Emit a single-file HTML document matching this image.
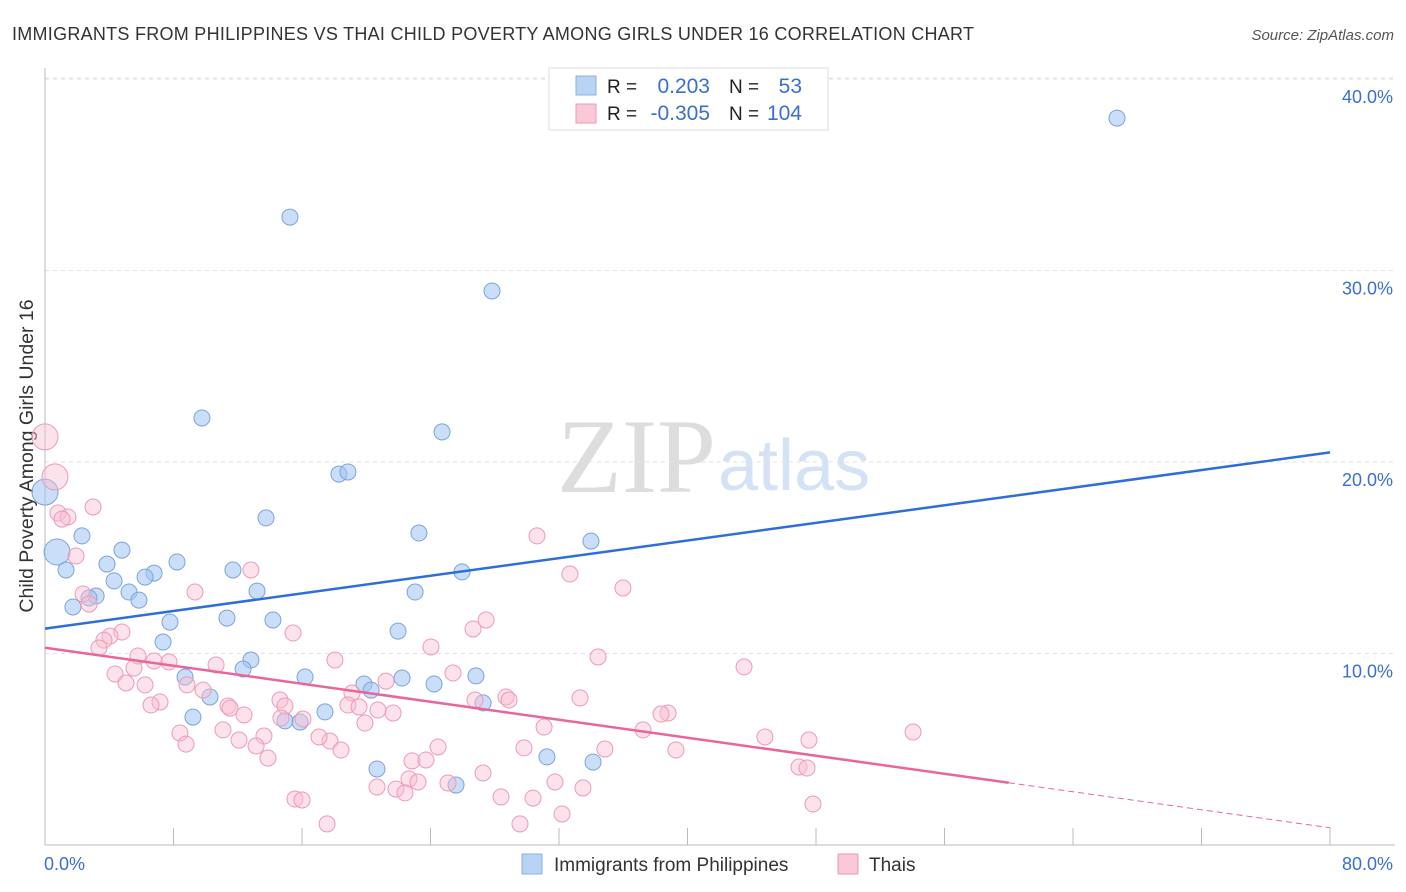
<!DOCTYPE html>
<html><head><meta charset="utf-8"><style>
body{margin:0;background:#fff;font-family:"Liberation Sans",sans-serif;}
#c{position:absolute;left:0;top:0;width:1406px;height:892px;}
</style></head><body>
<svg id="c" width="1406" height="892" xmlns="http://www.w3.org/2000/svg">
<text x="12" y="40" font-size="18" fill="#333" textLength="962">IMMIGRANTS FROM PHILIPPINES VS THAI CHILD POVERTY AMONG GIRLS UNDER 16 CORRELATION CHART</text>
<text x="1394" y="40" font-size="15" fill="#555" text-anchor="end" font-style="italic">Source: ZipAtlas.com</text>
<text x="716" y="492" font-size="106" fill="#ddd" text-anchor="end" font-family="Liberation Serif">ZIP</text>
<text x="718" y="490" font-size="72" fill="#d3e2f4">atlas</text>
<g id="grid"></g>
<line x1="45" y1="68" x2="45" y2="845" stroke="#bbb"/>
<line x1="45" y1="845" x2="1395" y2="845" stroke="#bbb"/>
<g id="xt"></g>
<text x="33" y="456" font-size="19.5" fill="#333" text-anchor="middle" transform="rotate(-90 33 456)">Child Poverty Among Girls Under 16</text>
<g id="pts"></g>
<g id="lines"></g>
<g>
<rect x="549" y="68" width="279" height="62" fill="#fff" stroke="#ddd"/>
<rect x="576" y="76" width="20" height="19" fill="#b9d3f5" stroke="#8ab0e6"/>
<rect x="576" y="104" width="20" height="19" fill="#fac8d7" stroke="#ee9ab6"/>
<text x="607" y="93" font-size="19" fill="#222">R = </text>
<text x="710" y="93" font-size="21" fill="#3a6fcf" text-anchor="end">0.203</text>
<text x="729" y="93" font-size="19" fill="#222">N = </text>
<text x="802" y="93" font-size="21" fill="#3a6fcf" text-anchor="end">53</text>
<text x="607" y="120" font-size="19" fill="#222">R = </text>
<text x="710" y="120" font-size="21" fill="#3a6fcf" text-anchor="end">-0.305</text>
<text x="729" y="120" font-size="19" fill="#222">N = </text>
<text x="802" y="120" font-size="21" fill="#3a6fcf" text-anchor="end">104</text>
</g>
<g>
<rect x="522" y="854" width="20" height="20" fill="#b9d3f5" stroke="#8ab0e6"/>
<text x="554" y="871" font-size="19" fill="#333">Immigrants from Philippines</text>
<rect x="838" y="854" width="20" height="20" fill="#fac8d7" stroke="#ee9ab6"/>
<text x="869" y="871" font-size="19" fill="#333">Thais</text>
</g>
<text x="44" y="870" font-size="18" fill="#3a6fcf">0.0%</text>
<text x="1393" y="870" font-size="18" fill="#3a6fcf" text-anchor="end">80.0%</text>
</svg>
<script>
const yTicks=[10,20,30,40];
const xTicks=[0,8,16,24,32,40,48,56,64,72,80];
const bluePx=[[1117,118],[290,217],[492,291],[202,418],[442,432],[339,474],[348,472],[45,492],[266,518],[419,533],[591,541],[82,536],[57,552],[122,550],[66,570],[107,564],[177,562],[154,573],[145,577],[233,570],[462,572],[114,581],[129,592],[96,596],[139,600],[257,591],[415,592],[73,607],[89,598],[170,622],[227,618],[273,620],[398,631],[163,642],[251,660],[243,669],[185,677],[305,677],[364,684],[371,690],[402,678],[434,684],[476,676],[210,697],[483,703],[193,717],[325,712],[285,721],[300,722],[377,769],[547,757],[593,762],[456,785]];
const pinkPx=[[45,437],[55,477],[93,507],[58,513],[68,517],[62,519],[76,556],[537,536],[251,570],[570,574],[623,588],[195,592],[83,594],[89,604],[486,620],[473,629],[293,633],[122,632],[110,636],[104,640],[431,647],[99,648],[138,656],[598,657],[154,661],[169,662],[335,660],[216,665],[134,668],[744,667],[115,674],[453,673],[126,683],[145,685],[386,681],[187,685],[203,690],[352,693],[228,706],[230,708],[280,700],[160,702],[151,705],[506,697],[509,700],[475,700],[580,698],[348,705],[359,707],[393,713],[285,706],[244,715],[281,718],[378,710],[668,713],[661,714],[303,719],[365,723],[544,727],[223,730],[180,733],[643,730],[913,732],[330,741],[319,737],[264,736],[239,740],[809,740],[186,744],[256,746],[341,750],[438,747],[524,748],[605,749],[676,750],[765,737],[268,758],[412,761],[426,760],[483,773],[799,767],[807,768],[409,779],[418,782],[448,783],[555,782],[377,787],[396,789],[583,788],[405,793],[501,797],[533,798],[295,799],[302,800],[813,804],[562,814],[327,824],[520,824],[628,117]];
const blueX=bluePx.map(p=>+((p[0]-45)/16.0625).toFixed(2));
const blueY=bluePx.map(p=>+((845-p[1])/19.15).toFixed(2));
const pinkX=pinkPx.map(p=>+((p[0]-45)/16.0625).toFixed(2));
const pinkY=pinkPx.map(p=>+((845-p[1])/19.15).toFixed(2));
const blueBig=[7,12];const pinkBig=[0,1];
const blueLine=[11.3,20.5];const pinkLine=[10.3,0.9];
const sx=v=>45+v*16.0625, sy=v=>845-v*19.15;
const NS="http://www.w3.org/2000/svg";
function mk(t,a,parent){const e=document.createElementNS(NS,t);for(const k in a)e.setAttribute(k,a[k]);document.getElementById(parent).appendChild(e);return e;}
yTicks.forEach(t=>{
 const l=mk('line',{x1:45,x2:1395,y1:sy(t),y2:sy(t),stroke:'#e2e2e2','stroke-dasharray':'4,4'},'grid');
 
 
 const tx=mk('text',{x:1393,y:sy(t)+24,'font-size':18,fill:'#3a6fcf','text-anchor':'end'},'grid');
 tx.textContent=t.toFixed(1)+'%';
 
 
});
const topGrid=mk('line',{x1:45,x2:1395,y1:78,y2:78,stroke:'#e2e2e2','stroke-dasharray':'4,4'},'grid');


xTicks.forEach(t=>{
 const l=mk('line',{x1:sx(t),x2:sx(t),y1:828,y2:845,stroke:'#bbb'},'xt');
 
 
});
blueX.forEach((x,i)=>{
 const big=blueBig.includes(i);
 const c=mk('circle',{cx:sx(x),cy:sy(blueY[i]),r:big?13:8,fill:'rgba(160,195,240,0.55)',stroke:'#7aa4dd','stroke-width':1},'pts');
 
 
});
pinkX.forEach((x,i)=>{
 const big=pinkBig.includes(i);
 const c=mk('circle',{cx:sx(x),cy:sy(pinkY[i]),r:big?13:8,fill:'rgba(248,190,208,0.45)',stroke:'#ee9ab6','stroke-width':1},'pts');
 
 
});
const bl=mk('line',{x1:sx(0),y1:sy(blueLine[0]),x2:sx(80),y2:sy(blueLine[1]),stroke:'#2d6fd6','stroke-width':2.5},'lines');


const xe=60;const ye=pinkLine[0]+(pinkLine[1]-pinkLine[0])*xe/80;
const pl=mk('line',{x1:sx(0),y1:sy(pinkLine[0]),x2:sx(xe),y2:sy(ye),stroke:'#e8669a','stroke-width':2.5},'lines');


const pd=mk('line',{x1:sx(xe),y1:sy(ye),x2:sx(80),y2:sy(pinkLine[1]),stroke:'#e8669a','stroke-width':1,'stroke-dasharray':'6,4'},'lines');


</script>
</body></html>
